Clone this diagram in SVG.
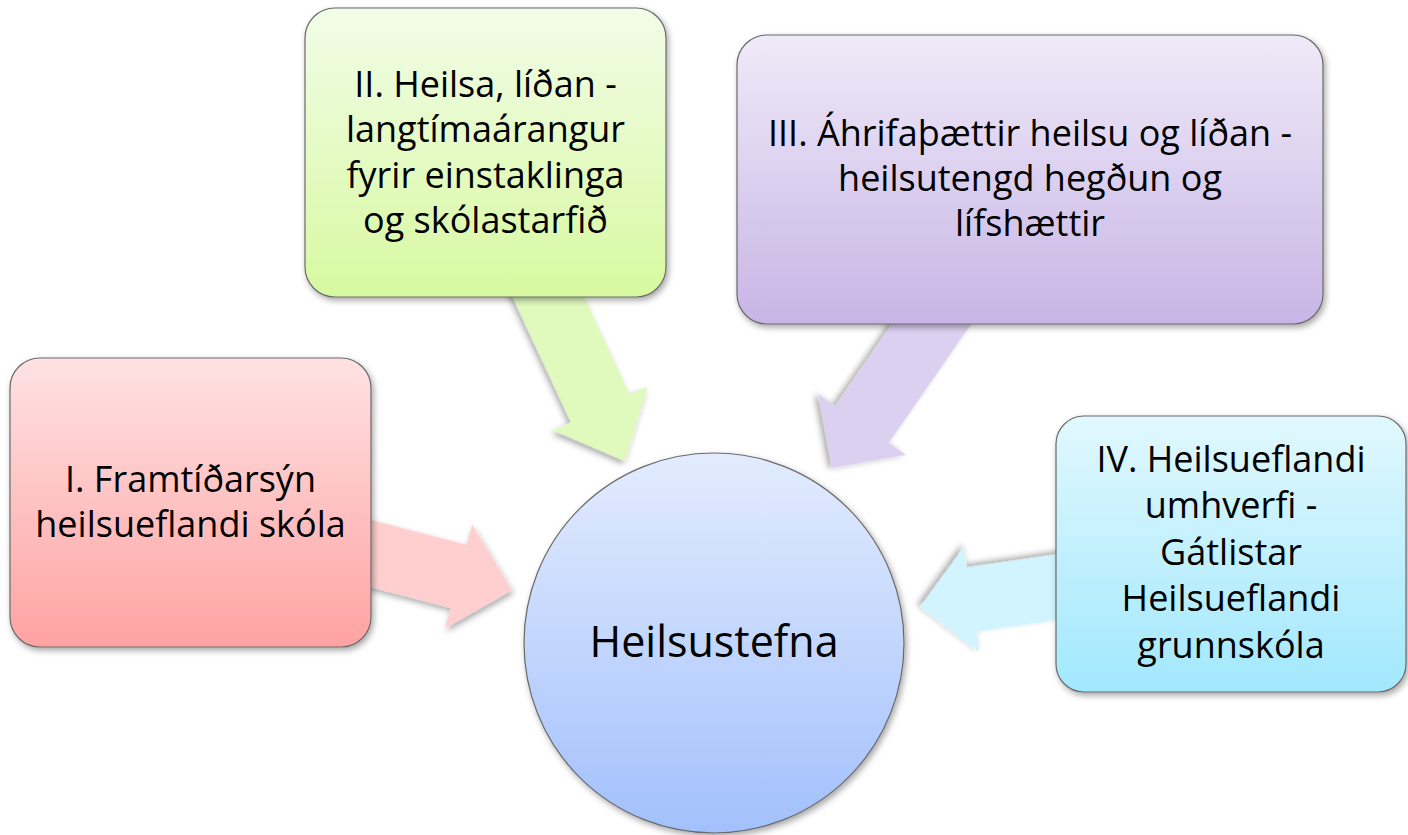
<svg xmlns="http://www.w3.org/2000/svg" width="1408" height="835" viewBox="0 0 1408 835">
<defs>
<filter id="sh" x="-10%" y="-10%" width="125%" height="125%">
<feDropShadow dx="2" dy="3" stdDeviation="3" flood-color="#000" flood-opacity="0.35"/>
</filter>
<linearGradient id="gRed" x1="0" y1="0" x2="0" y2="1"><stop offset="0" stop-color="#FFE2E3"/><stop offset="1" stop-color="#FFA2A2"/></linearGradient>
<linearGradient id="gGreen" x1="0" y1="0" x2="0" y2="1"><stop offset="0" stop-color="#F2FCE8"/><stop offset="1" stop-color="#D7F9A0"/></linearGradient>
<linearGradient id="gPurple" x1="0" y1="0" x2="0" y2="1"><stop offset="0" stop-color="#EFEAF8"/><stop offset="1" stop-color="#C8B5E6"/></linearGradient>
<linearGradient id="gCyan" x1="0" y1="0" x2="0" y2="1"><stop offset="0" stop-color="#E1F8FE"/><stop offset="1" stop-color="#A2E8FD"/></linearGradient>
<linearGradient id="gBlue" x1="0" y1="0" x2="0" y2="1"><stop offset="0" stop-color="#E3ECFE"/><stop offset="1" stop-color="#A2C0FC"/></linearGradient>
<linearGradient id="aRed" gradientUnits="userSpaceOnUse" x1="0" y1="500" x2="0" y2="630"><stop offset="0" stop-color="#FFCFCF"/><stop offset="1" stop-color="#FFB4B4"/></linearGradient>
<linearGradient id="aGreen" gradientUnits="userSpaceOnUse" x1="0" y1="297" x2="0" y2="462"><stop offset="0" stop-color="#E0F9BC"/><stop offset="1" stop-color="#D3F897"/></linearGradient>
<linearGradient id="aPurple" gradientUnits="userSpaceOnUse" x1="0" y1="324" x2="0" y2="470"><stop offset="0" stop-color="#DCD0F1"/><stop offset="1" stop-color="#C6B2E6"/></linearGradient>
<linearGradient id="aCyan" gradientUnits="userSpaceOnUse" x1="0" y1="545" x2="0" y2="655"><stop offset="0" stop-color="#D2F4FE"/><stop offset="1" stop-color="#AAE9FD"/></linearGradient>
</defs>
<style>
.box { stroke: #6a6a6a; stroke-width: 1.2; filter: url(#sh); }
.arrow { filter: url(#sh); }
.t { font-family: "Open Sans", "Liberation Sans", sans-serif; font-size: 36px; fill: #000; text-anchor: middle; font-variant-ligatures: none; }
.tc { font-family: "Open Sans", "Liberation Sans", sans-serif; font-size: 43px; fill: #000; text-anchor: middle; font-variant-ligatures: none; }
</style>

<g id="connectors">
<polygon class="arrow" fill="url(#aRed)" points="-200,-32.5 -55,-32.5 -55,-53.5 0,0 -55,53.5 -55,32.5 -200,32.5" transform="translate(512,590) rotate(14.5)"/>
<polygon class="arrow" fill="url(#aGreen)" points="-220,-32.5 -58,-32.5 -58,-52 0,0 -58,52 -58,32.5 -220,32.5" transform="translate(625,461) rotate(65)"/>
<polygon class="arrow" fill="url(#aPurple)" points="-220,-32.5 -53,-32.5 -53,-53.5 0,0 -53,53.5 -53,32.5 -220,32.5" transform="translate(832,468) rotate(124.7)"/>
<polygon class="arrow" fill="url(#aCyan)" points="-180,-32.5 -52,-32.5 -52,-53 0,0 -52,53 -52,32.5 -180,32.5" transform="translate(920,607) rotate(171.8)"/>
</g>

<g id="node-center">
<circle class="box" cx="714" cy="643" r="190" fill="url(#gBlue)"/>
<text class="tc" x="714" y="657">Heilsustefna</text>
</g>

<g id="node-1">
<rect class="box" x="10" y="358" width="361" height="289" rx="30" fill="url(#gRed)"/>
<text class="t" x="190.5" y="492">I. Framtíðarsýn</text>
<text class="t" x="190.5" y="537">heilsueflandi skóla</text>
</g>

<g id="node-2">
<rect class="box" x="305" y="8" width="361" height="289" rx="30" fill="url(#gGreen)"/>
<text class="t" x="485.5" y="97">II. Heilsa, líðan -</text>
<text class="t" x="485.5" y="142">langtímaárangur</text>
<text class="t" x="485.5" y="188">fyrir einstaklinga</text>
<text class="t" x="485.5" y="233">og skólastarfið</text>
</g>

<g id="node-3">
<rect class="box" x="737" y="35" width="586" height="289" rx="30" fill="url(#gPurple)"/>
<text class="t" x="1030" y="146">III. Áhrifaþættir heilsu og líðan -</text>
<text class="t" x="1030" y="191">heilsutengd hegðun og</text>
<text class="t" x="1030" y="236">lífshættir</text>
</g>

<g id="node-4">
<rect class="box" x="1056" y="416" width="350" height="276" rx="28" fill="url(#gCyan)"/>
<text class="t" x="1231" y="472">IV. Heilsueflandi</text>
<text class="t" x="1231" y="518">umhverfi -</text>
<text class="t" x="1231" y="565">Gátlistar</text>
<text class="t" x="1231" y="611">Heilsueflandi</text>
<text class="t" x="1231" y="658">grunnskóla</text>
</g>
</svg>
